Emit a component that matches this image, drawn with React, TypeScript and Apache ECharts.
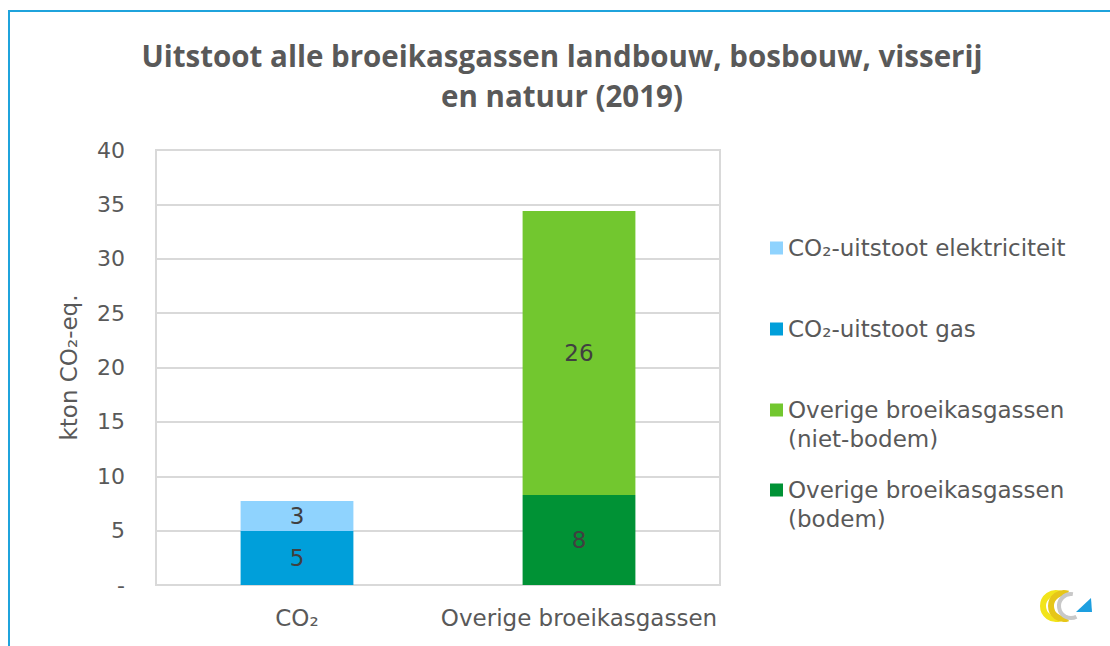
import React, { useEffect, useRef } from "react";
import * as echarts from "echarts";

const categories = ["CO₂", "Overige broeikasgassen"];
const gasValues = [4.97, null];
const elecValues = [2.75, null];
const bodemValues = [null, 8.28];
const nietBodemValues = [null, 26.1];
const yTicks = { min: 0, max: 40, interval: 5 };

const seriesNames = {
  elec: "CO₂-uitstoot elektriciteit",
  gas: "CO₂-uitstoot gas",
  niet: "Overige broeikasgassen (niet-bodem)",
  bodem: "Overige broeikasgassen (bodem)",
};

const TEXT = "#595959";
const FONT = "DejaVu Sans";
const FS = 23;

export default function App() {
  const ref = useRef<HTMLDivElement>(null);
  useEffect(() => {
    const chart = echarts.init(ref.current!, null, { renderer: "svg" });
    const label = {
      show: true,
      position: "inside",
      fontSize: 23,
      fontFamily: FONT,
      color: "#404040",
      formatter: (p: any) => (p.value == null ? "" : String(Math.round(p.value))),
    };
    const mk = (name: string, data: any[], color: string) => ({
      type: "bar",
      name,
      stack: "total",
      data,
      barWidth: "40%",
      itemStyle: { color },
      label,
    });
    const legendItem = (name: string, top: number, text: string) => ({
      data: [name],
      left: 770,
      top,
      padding: 0,
      orient: "vertical",
      itemWidth: 13,
      itemHeight: 13,
      icon: "rect",
      formatter: () => text,
      textStyle: { fontSize: FS, fontFamily: FONT, color: TEXT, lineHeight: 28 },
      selectedMode: false,
    });
    chart.setOption({
      animation: false,
      backgroundColor: "#ffffff",
      title: {
        text: "Uitstoot alle broeikasgassen landbouw, bosbouw, visserij\nen natuur (2019)",
        left: 562,
        top: 35,
        padding: 0,
        textAlign: "center",
        textStyle: {
          fontFamily: "Open Sans",
          fontWeight: "bold",
          fontSize: 29.5,
          lineHeight: 40,
          color: TEXT,
        },
      },
      grid: {
        left: 156,
        top: 150,
        width: 564,
        height: 435,
        show: true,
        borderColor: "#d9d9d9",
        borderWidth: 2,
      },
      xAxis: {
        type: "category",
        data: categories,
        axisLine: { lineStyle: { color: "#d9d9d9", width: 2 } },
        axisTick: { show: false },
        axisLabel: { interval: 0, fontSize: FS, fontFamily: FONT, color: TEXT, margin: 21 },
      },
      yAxis: {
        type: "value",
        min: yTicks.min,
        max: yTicks.max,
        interval: yTicks.interval,
        name: "kton CO₂-eq.",
        nameLocation: "middle",
        nameGap: 76,
        nameTextStyle: { fontSize: FS, fontFamily: FONT, color: TEXT },
        axisLine: { show: false },
        axisTick: { show: false },
        splitLine: { lineStyle: { color: "#d9d9d9", width: 2 } },
        axisLabel: {
          fontSize: 22,
          fontFamily: FONT,
          color: TEXT,
          margin: 31,
          formatter: (v: number) => (v === 0 ? "-" : String(v)),
        },
      },
      legend: [
        legendItem(seriesNames.elec, 234, "CO₂-uitstoot elektriciteit"),
        legendItem(seriesNames.gas, 315, "CO₂-uitstoot gas"),
        legendItem(seriesNames.niet, 396, "Overige broeikasgassen"),
        legendItem(seriesNames.bodem, 476, "Overige broeikasgassen"),
      ],
      series: [
        mk(seriesNames.gas, gasValues, "#009fda"),
        mk(seriesNames.elec, elecValues, "#8fd3fe"),
        mk(seriesNames.bodem, bodemValues, "#009235"),
        mk(seriesNames.niet, nietBodemValues, "#72c72f"),
      ],
      graphic: [
        {
          type: "line",
          shape: { x1: 8, y1: 11, x2: 1110, y2: 11 },
          style: { stroke: "#1fa3dc", lineWidth: 2 },
        },
        {
          type: "line",
          shape: { x1: 9, y1: 10, x2: 9, y2: 646 },
          style: { stroke: "#1fa3dc", lineWidth: 2 },
        },
        {
          type: "text",
          x: 788,
          y: 439,
          style: {
            text: "(niet-bodem)",
            fontSize: FS,
            fontFamily: FONT,
            fill: TEXT,
            verticalAlign: "middle",
          },
        },
        {
          type: "text",
          x: 788,
          y: 519,
          style: {
            text: "(bodem)",
            fontSize: FS,
            fontFamily: FONT,
            fill: TEXT,
            verticalAlign: "middle",
          },
        },
        {
          type: "arc",
          shape: { cx: 1056, cy: 606, r: 13, startAngle: Math.PI * 0.4, endAngle: Math.PI * 1.6 },
          style: { stroke: "#f2e41b", lineWidth: 6, fill: "none" },
        },
        {
          type: "arc",
          shape: { cx: 1064, cy: 606, r: 13, startAngle: Math.PI * 0.4, endAngle: Math.PI * 1.6 },
          style: { stroke: "#e6c619", lineWidth: 6, fill: "none" },
        },
        {
          type: "arc",
          shape: { cx: 1071, cy: 606, r: 12, startAngle: Math.PI * 0.35, endAngle: Math.PI * 1.55 },
          style: { stroke: "#c8c8c8", lineWidth: 4, fill: "none" },
        },
        {
          type: "polygon",
          shape: { points: [[1076, 612], [1092, 612], [1091, 598]] },
          style: { fill: "#1d9fe0" },
        },
      ],
    });
    return () => chart.dispose();
  }, []);
  return (
    <div
      ref={ref}
      style={{ position: "fixed", left: 0, top: 0, width: 1110, height: 646 }}
    />
  );
}
